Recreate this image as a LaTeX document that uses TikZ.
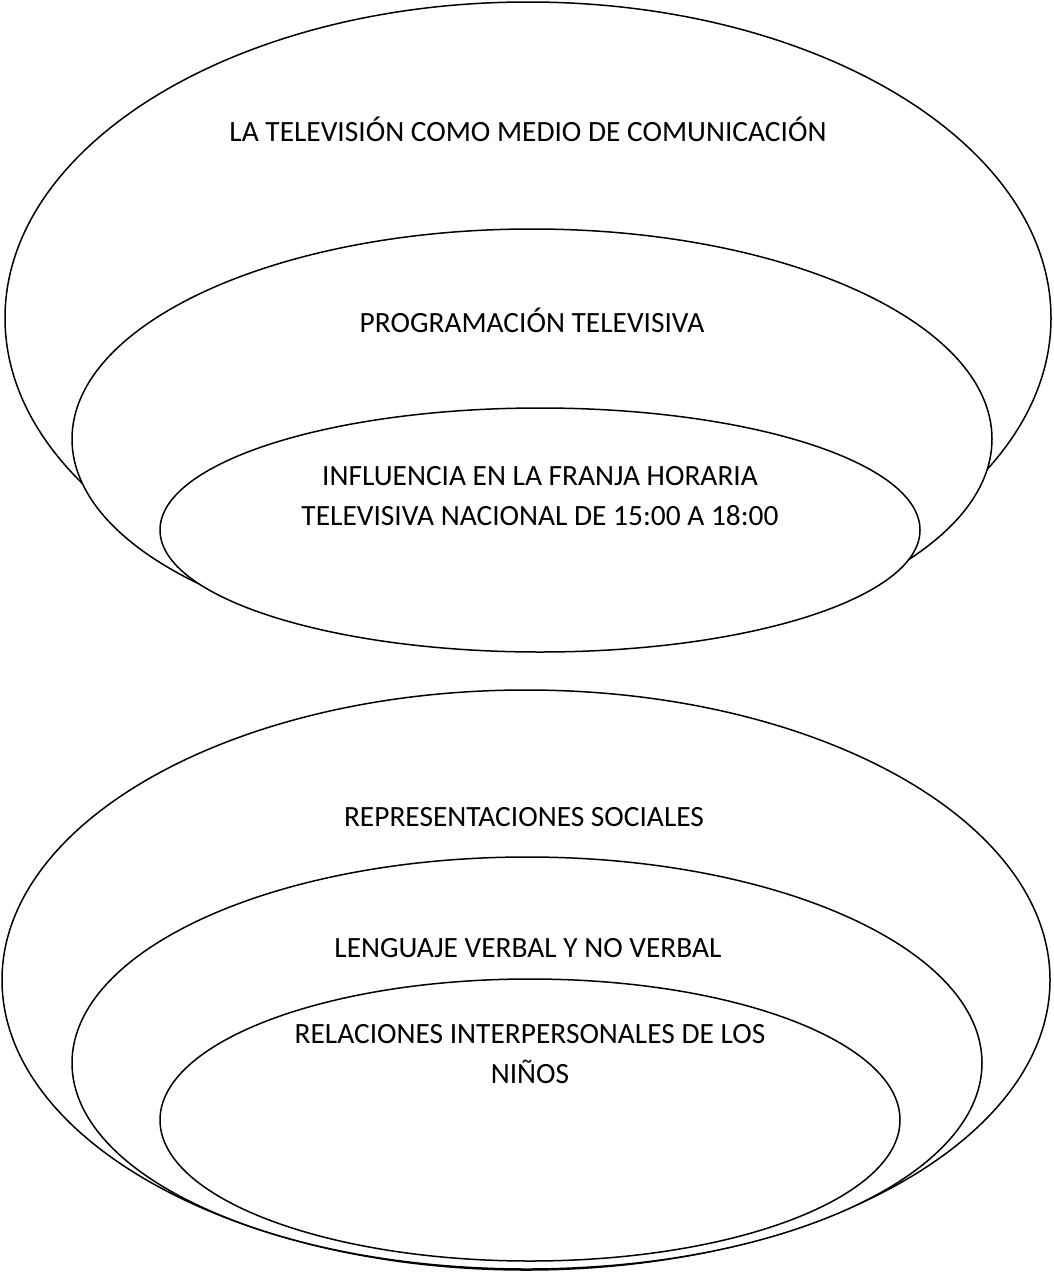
\documentclass[tikz,border=0pt]{standalone}
\usepackage{fontspec}
\setmainfont{Carlito}

\begin{document}
\begin{tikzpicture}
  [x=0.5pt, y=-0.5pt,
   every node/.style={align=center, inner sep=0pt, font=\fontsize{14.7}{20}\selectfont},
   ring/.style={draw=black, fill=white, line width=0.75pt}]
  \useasboundingbox (0,0) rectangle (1054,1274);
  % upper group
  \draw[ring] (528,318) ellipse [x radius=523, y radius=316];
  \draw[ring] (532,439) ellipse [x radius=460, y radius=210];
  \draw[ring] (540,530) ellipse [x radius=380, y radius=122];
  \node (medio) at (528,129) {LA TELEVISIÓN COMO MEDIO DE COMUNICACIÓN};
  \node (prog) at (532,320) {PROGRAMACIÓN TELEVISIVA};
  \node (franja) at (540,496) {INFLUENCIA EN LA FRANJA HORARIA\\TELEVISIVA NACIONAL DE 15:00 A 18:00};
  % lower group
  \draw[ring] (526,980) ellipse [x radius=524, y radius=290];
  \draw[ring] (527,1063) ellipse [x radius=455, y radius=206];
  \draw[ring] (530,1120) ellipse [x radius=370, y radius=141];
  \node (repr) at (524,817) {REPRESENTACIONES SOCIALES};
  \node (leng) at (528,948) {LENGUAJE VERBAL Y NO VERBAL};
  \node (rel) at (530,1054) {RELACIONES INTERPERSONALES DE LOS\\NIÑOS};
\end{tikzpicture}
\end{document}
